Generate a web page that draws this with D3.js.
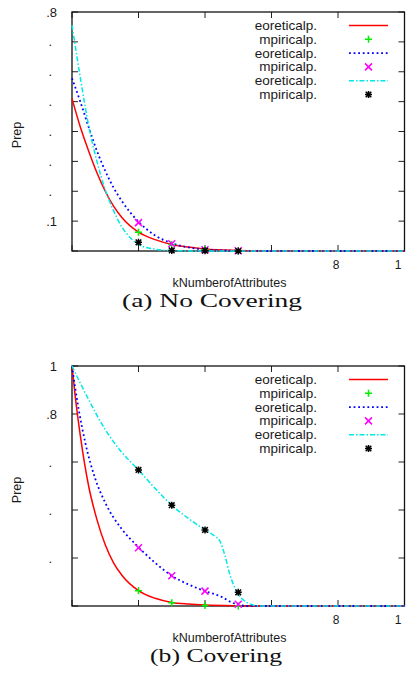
<!DOCTYPE html>
<html>
<head>
<meta charset="utf-8">
<script src="https://cdn.jsdelivr.net/npm/d3@7"></script>
<style>
  html, body { margin: 0; padding: 0; background: #fff; }
  svg { display: block; }
  text { font-family: "Liberation Sans", Arial, Helvetica, sans-serif; fill: #1a1a1a; }
  .caption { font-family: "Liberation Serif", "Times New Roman", serif; fill: #111; }
</style>
</head>
<body>
<svg id="chart" width="406" height="677"></svg>
<script>
// ---- shared axis settings ----
const xTicks = [0, 2, 4, 6, 8, 10];
const xTickLabels = ["", "", "", "", "8", "1"];
const markerX = [2, 3, 4, 5];
const legendLabels = ["eoreticalp.", "mpiricalp.", "eoreticalp.", "mpiricalp.", "eoreticalp.", "mpiricalp."];

// ---- panel (a): No Covering ----
const yTicksA = [0, 0.1, 0.2, 0.3, 0.4, 0.5, 0.6, 0.7, 0.8];
const yTickLabelsA = ["", ".1", ".", ".", ".", ".", ".", ".", ".8"];
const redA_x  = [0, 0.25, 0.5, 0.75, 1, 1.25, 1.5, 2, 2.5, 3, 3.5, 4, 5, 6, 10];
const redA_y  = [0.51, 0.415, 0.335, 0.262, 0.2, 0.15, 0.112, 0.063, 0.038, 0.022, 0.013, 0.007, 0.002, 0, 0];
const blueA_x = [0, 0.25, 0.5, 0.75, 1, 1.25, 1.5, 2, 2.5, 3, 3.5, 4, 5, 6, 10];
const blueA_y = [0.578, 0.5, 0.415, 0.335, 0.268, 0.212, 0.167, 0.098, 0.052, 0.026, 0.012, 0.005, 0.001, 0, 0];
const cyanA_x = [0, 0.25, 0.5, 0.75, 1, 1.25, 1.5, 1.75, 2, 2.5, 3, 4, 10];
const cyanA_y = [0.756, 0.58, 0.42, 0.3, 0.205, 0.135, 0.08, 0.045, 0.022, 0.006, 0.001, 0, 0];
const greenA   = [0.063, 0.022, 0.005, 0.001];
const magentaA = [0.095, 0.024, 0.004, 0.001];
const blackA   = [0.029, 0.002, 0.001, 0];

// ---- panel (b): Covering ----
const yTicksB = [0, 0.2, 0.4, 0.6, 0.8, 1];
const yTickLabelsB = ["", ".", ".", ".", ".8", "1"];
const redB_x  = [0, 0.1, 0.25, 0.5, 0.75, 1, 1.25, 1.5, 2, 2.5, 3, 3.5, 4, 5, 6, 10];
const redB_y  = [1, 0.87, 0.71, 0.5, 0.36, 0.255, 0.18, 0.128, 0.064, 0.032, 0.015, 0.008, 0.004, 0.001, 0, 0];
const blueB_x = [0, 0.2, 0.4, 0.7, 1, 1.5, 2, 2.5, 3, 3.5, 4, 4.5, 4.8, 5, 5.3, 10];
const blueB_y = [1, 0.82, 0.68, 0.53, 0.43, 0.32, 0.245, 0.18, 0.126, 0.09, 0.062, 0.038, 0.015, 0.005, 0, 0];
const cyanB_x = [0, 0.5, 1, 1.5, 2, 2.5, 3, 3.5, 4, 4.3, 4.45, 4.6, 4.75, 4.9, 5, 5.2, 5.4, 5.65, 10];
const cyanB_y = [1, 0.86, 0.735, 0.64, 0.567, 0.49, 0.42, 0.365, 0.317, 0.29, 0.27, 0.21, 0.13, 0.075, 0.05, 0.02, 0.006, 0, 0];
const greenB   = [0.064, 0.014, 0.002, 0];
const magentaB = [0.243, 0.126, 0.062, 0.007];
const blackB   = [0.567, 0.42, 0.317, 0.057];

const svg = d3.select("#chart");

// marker glyph paths centred on 0,0
function markerPath(kind, r) {
  if (kind === "plus") return `M${-r},0H${r}M0,${-r}V${r}`;
  if (kind === "cross") return `M${-r},${-r}L${r},${r}M${-r},${r}L${r},${-r}`;
  // asterisk: plus + cross
  return `M${-r},0H${r}M0,${-r}V${r}M${-r*0.8},${-r*0.8}L${r*0.8},${r*0.8}M${-r*0.8},${r*0.8}L${r*0.8},${-r*0.8}`;
}

const lineStyles = [
  { color: "#ff0000", width: 1.5, dash: null },
  { color: "#0000ff", width: 1.8, dash: "1.8,2.8" },
  { color: "#00e8e8", width: 1.5, dash: "5,2,1.5,2" }
];
const markerStyles = [
  { color: "#00ee00", kind: "plus" },
  { color: "#ff00ff", kind: "cross" },
  { color: "#000000", kind: "star" }
];

function panel(cfg) {
  const left = 72, right = 404.5;
  const x = d3.scaleLinear().domain([0, 10]).range([left, right]);
  const y = d3.scaleLinear().domain(cfg.yDomain).range([cfg.bottom, cfg.top]);
  const g = svg.append("g");

  // inner ticks on all four sides
  const tickLen = 6;
  const tickG = g.append("g").attr("stroke", "#222").attr("stroke-width", 1);
  xTicks.forEach(t => {
    tickG.append("line").attr("x1", x(t)).attr("x2", x(t)).attr("y1", cfg.bottom).attr("y2", cfg.bottom - tickLen);
    tickG.append("line").attr("x1", x(t)).attr("x2", x(t)).attr("y1", cfg.top).attr("y2", cfg.top + tickLen);
  });
  cfg.yTicks.forEach(t => {
    tickG.append("line").attr("x1", left).attr("x2", left + tickLen).attr("y1", y(t)).attr("y2", y(t));
    tickG.append("line").attr("x1", right).attr("x2", right - tickLen).attr("y1", y(t)).attr("y2", y(t));
  });

  // frame
  g.append("rect").attr("x", left).attr("y", cfg.top)
    .attr("width", right - left).attr("height", cfg.bottom - cfg.top)
    .attr("fill", "none").attr("stroke", "#111").attr("stroke-width", 1.3);

  // tick labels
  cfg.yTicks.forEach((t, i) => {
    const lab = cfg.yTickLabels[i];
    if (!lab) return;
    g.append("text").attr("x", lab === "." ? 52 : 57).attr("y", y(t) + 4.5)
      .attr("text-anchor", "end").attr("font-size", 13).text(lab);
  });
  xTicks.forEach((t, i) => {
    const lab = xTickLabels[i];
    if (!lab) return;
    g.append("text").attr("x", x(t) - (lab === "1" ? 6.5 : 2)).attr("y", cfg.bottom + 18)
      .attr("text-anchor", "middle").attr("font-size", 12).text(lab);
  });

  // axis titles
  g.append("text").attr("transform", `translate(21,${cfg.prepY}) rotate(-90)`)
    .attr("text-anchor", "middle").attr("font-size", 12.5).text("Prep");
  g.append("text").attr("x", 229.5).attr("y", cfg.bottom + 36)
    .attr("text-anchor", "middle").attr("font-size", 12.5).text("kNumberofAttributes");

  // theoretical curves
  const line = d3.line().x(d => x(d[0])).y(d => y(d[1])).curve(d3.curveMonotoneX);
  cfg.curves.forEach((c, i) => {
    const st = lineStyles[i];
    g.append("path").datum(d3.zip(c[0], c[1])).attr("d", line)
      .attr("fill", "none").attr("stroke", st.color).attr("stroke-width", st.width)
      .attr("stroke-dasharray", st.dash);
  });

  // empirical points
  cfg.points.forEach((vals, i) => {
    const st = markerStyles[i];
    g.selectAll(null).data(d3.zip(markerX, vals)).join("path")
      .attr("transform", d => `translate(${x(d[0])},${y(d[1])})`)
      .attr("d", markerPath(st.kind, 3.5))
      .attr("fill", "none").attr("stroke", st.color).attr("stroke-width", 1.5);
  });

  // legend
  const lg = g.append("g");
  legendLabels.forEach((lab, i) => {
    const ly = cfg.top + 13.5 + i * 13.8;
    lg.append("text").attr("x", 317).attr("y", ly + 4.5).attr("text-anchor", "end")
      .attr("font-size", 13.5).text(lab);
    if (i % 2 === 0) {
      const st = lineStyles[i / 2];
      lg.append("line").attr("x1", 349).attr("x2", 388).attr("y1", ly).attr("y2", ly)
        .attr("stroke", st.color).attr("stroke-width", st.width).attr("stroke-dasharray", st.dash);
    } else {
      const st = markerStyles[(i - 1) / 2];
      lg.append("path").attr("transform", `translate(368.5,${ly})`)
        .attr("d", markerPath(st.kind, 3.5))
        .attr("fill", "none").attr("stroke", st.color).attr("stroke-width", 1.5);
    }
  });

  // caption
  svg.append("text").attr("class", "caption").attr("x", cfg.capX).attr("y", cfg.capY)
    .attr("text-anchor", "middle").attr("font-size", 19)
    .attr("textLength", cfg.capW).attr("lengthAdjust", "spacingAndGlyphs")
    .text(cfg.caption);
}

panel({
  top: 12, bottom: 251, yDomain: [0, 0.8],
  yTicks: yTicksA, yTickLabels: yTickLabelsA, prepY: 135,
  curves: [[redA_x, redA_y], [blueA_x, blueA_y], [cyanA_x, cyanA_y]],
  points: [greenA, magentaA, blackA],
  caption: "(a) No Covering", capX: 212, capY: 307, capW: 180
});

panel({
  top: 366, bottom: 606, yDomain: [0, 1],
  yTicks: yTicksB, yTickLabels: yTickLabelsB, prepY: 490,
  curves: [[redB_x, redB_y], [blueB_x, blueB_y], [cyanB_x, cyanB_y]],
  points: [greenB, magentaB, blackB],
  caption: "(b) Covering", capX: 216, capY: 662, capW: 132
});
</script>
</body>
</html>
